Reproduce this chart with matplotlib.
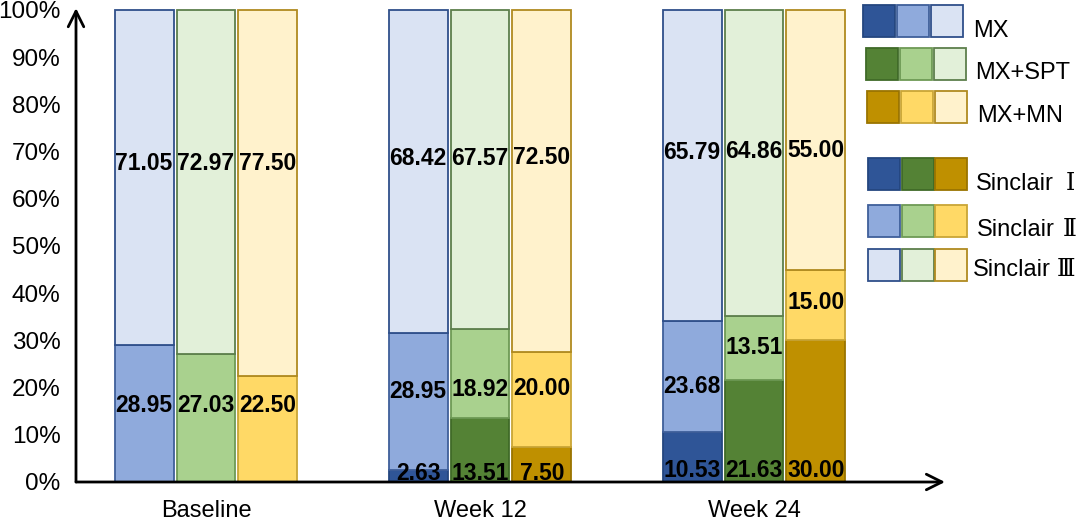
import matplotlib
matplotlib.use("Agg")
import matplotlib.pyplot as plt
from matplotlib.patches import Rectangle

plt.rcParams['font.family'] = ['Liberation Sans', 'DejaVu Sans']

# ---- data ----
groups = ["Baseline", "Week 12", "Week 24"]
treatments = ["MX", "MX+SPT", "MX+MN"]
grades = ["Sinclair Ⅰ", "Sinclair Ⅱ", "Sinclair Ⅲ"]

mx_I   = [0.00, 2.63, 10.53]
mx_II  = [28.95, 28.95, 23.68]
mx_III = [71.05, 68.42, 65.79]

spt_I   = [0.00, 13.51, 21.63]
spt_II  = [27.03, 18.92, 13.51]
spt_III = [72.97, 67.57, 64.86]

mn_I   = [0.00, 7.50, 30.00]
mn_II  = [22.50, 20.00, 15.00]
mn_III = [77.50, 72.50, 55.00]

yticks = [0, 10, 20, 30, 40, 50, 60, 70, 80, 90, 100]
ytick_labels = [f"{v}%" for v in yticks]

# ---- styles ----
fills = {
    "MX":     ["#2F5597", "#8FAADC", "#DAE3F3"],
    "MX+SPT": ["#548235", "#A9D18E", "#E2F0D9"],
    "MX+MN":  ["#BF9000", "#FFD966", "#FFF2CC"],
}
edges = {
    "MX":     ["#24467F", "#3F5F9A", "#2F4F8A"],
    "MX+SPT": ["#3F6A27", "#6E9A55", "#5D7F4C"],
    "MX+MN":  ["#9A7400", "#C9A536", "#B08A20"],
}
# label vertical positions (in % units): per treatment -> per group -> per grade
label_pos = {
    "MX":     [[None, 16.3, 67.5], [1.9, 19.1, 68.5], [2.5, 20.3, 69.8]],
    "MX+SPT": [[None, 16.3, 67.5], [1.9, 19.5, 68.5], [2.5, 28.4, 70.0]],
    "MX+MN":  [[None, 16.3, 67.5], [1.9, 19.9, 68.7], [2.5, 38.0, 70.3]],
}

series = {
    "MX": [mx_I, mx_II, mx_III],
    "MX+SPT": [spt_I, spt_II, spt_III],
    "MX+MN": [mn_I, mn_II, mn_III],
}

W, H = 1084, 527
fig = plt.figure(figsize=(W / 100, H / 100), dpi=100)

px_left, px_right, px_zero = 76, 945, 482
px_per_pct = 4.72
ytop = 102
px_top = px_zero - ytop * px_per_pct
ax = fig.add_axes([px_left / W, (H - px_zero) / H,
                   (px_right - px_left) / W, (px_zero - px_top) / H])

gc0, gspace = 206, 274
ax.set_xlim((px_left - gc0) / gspace, (px_right - gc0) / gspace)
ax.set_ylim(0, ytop)

step, width = 0.226, 0.215
for ti, t in enumerate(treatments):
    vals = series[t]
    for gi in range(len(groups)):
        x = gi + (ti - 1) * step
        bottom = 0
        for k in range(3):
            v = vals[k][gi]
            if v > 0:
                ax.bar(x, v, width=width, bottom=bottom, color=fills[t][k],
                       edgecolor=edges[t][k], linewidth=1.3, clip_on=False, zorder=2)
                ly = label_pos[t][gi][k]
                ax.text(x, ly, f"{v:.2f}", ha="center", va="center",
                        fontsize=16.5, fontweight="bold", color="black", zorder=4)
            bottom += v

for s in ax.spines.values():
    s.set_visible(False)
ax.set_yticks(yticks)
ax.set_yticklabels(ytick_labels, fontsize=17.5)
ax.tick_params(axis="y", length=0, pad=11)
ax.set_xticks(range(len(groups)))
ax.set_xticklabels(groups, fontsize=17)
ax.tick_params(axis="x", length=0, pad=13)

# axes arrows
arrow_kw = dict(arrowstyle="->", lw=2, color="black", mutation_scale=28,
                shrinkA=0, shrinkB=0)
ax.annotate("", xy=(1, 0), xycoords="axes fraction",
            xytext=(0, 0), textcoords="axes fraction", arrowprops=arrow_kw, zorder=5)
ax.annotate("", xy=(0, 100.4), xycoords=("axes fraction", "data"),
            xytext=(0, 0), textcoords=("axes fraction", "data"), arrowprops=arrow_kw, zorder=5)

# ---- legend (pixel coordinate overlay) ----
lg = fig.add_axes([0, 0, 1, 1], facecolor="none")
lg.set_xlim(0, W)
lg.set_ylim(H, 0)
lg.axis("off")

sq = 32
rows_t = [(863, 5), (866, 48), (867, 91)]
text_x_t = [973, 975, 977]
text_dy_t = [26, 25, 25]
for i, t in enumerate(treatments):
    x0, y0 = rows_t[i]
    for k in range(3):
        lg.add_patch(Rectangle((x0 + k * 34, y0), sq, sq, facecolor=fills[t][k],
                               edgecolor=edges[t][k], linewidth=1.3))
    lg.text(text_x_t[i], y0 + text_dy_t[i], t, fontsize=17, va="center", ha="left")

rows_g = [(868, 158), (868, 205), (868, 249)]
text_x_g = [976, 977, 973]
text_dy_g = [26, 25, 21]
numeral_x = [1070, 1070, 1066]
for k, g in enumerate(grades):
    x0, y0 = rows_g[k]
    for i, t in enumerate(treatments):
        lg.add_patch(Rectangle((x0 + i * 33.5, y0), sq, sq, facecolor=fills[t][k],
                               edgecolor=edges[t][k], linewidth=1.3))
    word, numeral = g.split(" ")
    lg.text(text_x_g[k], y0 + text_dy_g[k], word, fontsize=17, va="center", ha="left")
    lg.text(numeral_x[k], y0 + text_dy_g[k], numeral, fontsize=17, va="center",
            ha="center", family=["DejaVu Serif", "Noto Sans CJK SC"])

fig.savefig("out.png", dpi=100)
